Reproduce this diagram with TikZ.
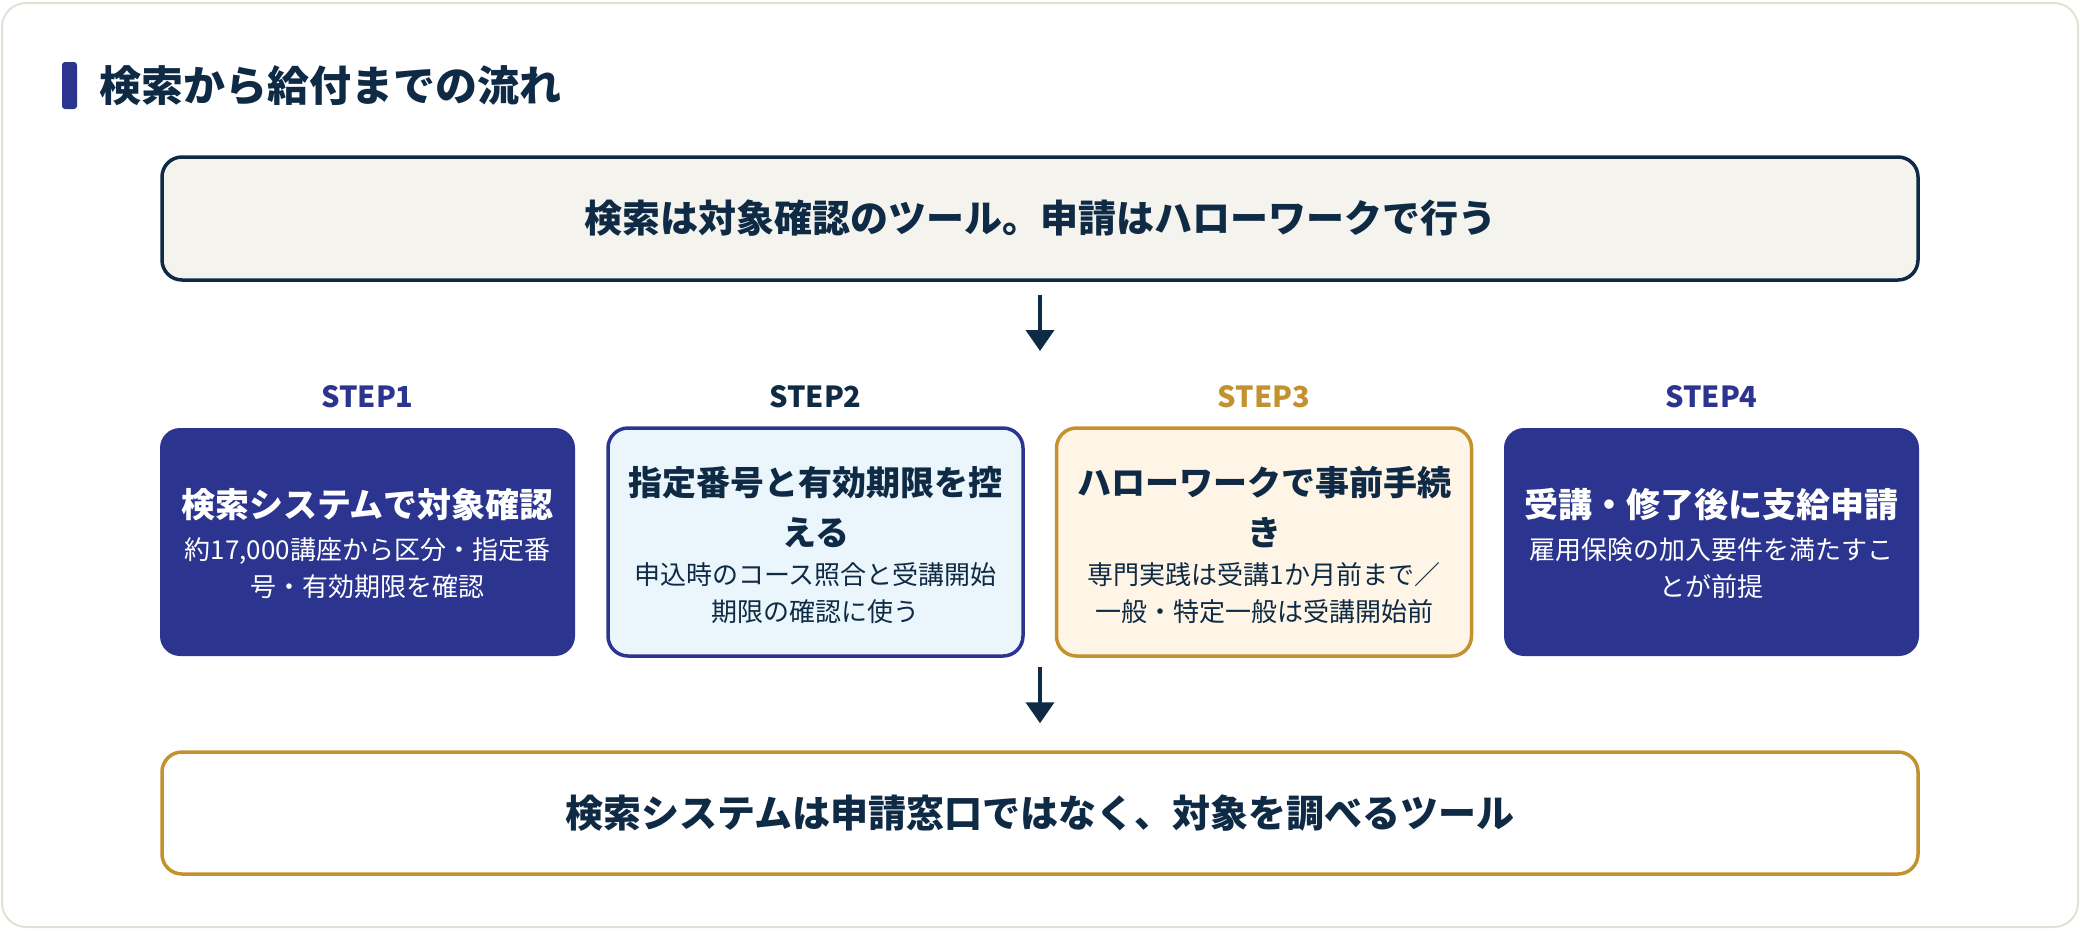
\documentclass[tikz,border=0pt]{standalone}
\usepackage{fontspec}
\setmainfont{Noto Sans CJK JP}
\usetikzlibrary{arrows.meta}
\definecolor{indigo}{HTML}{2B3590}
\definecolor{navy}{HTML}{0F2A44}
\definecolor{gold}{HTML}{C4912F}
\definecolor{topfill}{HTML}{F4F3EE}
\definecolor{bluefill}{HTML}{EAF6FC}
\definecolor{creamfill}{HTML}{FEF5E6}
\definecolor{cardline}{HTML}{E3E1D5}
\begin{document}
\begin{tikzpicture}[x=1pt,y=-1pt,
  bigbox/.style={draw=navy, line width=3.5pt, rounded corners=20pt, minimum width=1756pt, minimum height=123pt, inner sep=0pt, text=navy, font=\fontsize{38}{46}\selectfont\bfseries},
  stepbox/.style={rounded corners=20pt, minimum width=415pt, minimum height=228pt, inner sep=0pt, line width=3.5pt},
  steplabel/.style={inner sep=0pt, font=\fontsize{29}{34}\selectfont\bfseries},
  ttl/.style={inner sep=0pt, align=center, font=\fontsize{34}{50}\selectfont\bfseries},
  sub/.style={inner sep=0pt, align=center, font=\fontsize{26}{37}\selectfont},
  flow/.style={draw=navy, line width=4pt, -{Triangle[width=28pt,length=21pt]}}
]
\useasboundingbox (0,0) rectangle (2080,930);
% outer card
\draw[cardline, line width=2pt, fill=white, rounded corners=24pt] (2,3) rectangle (2078,927);
% heading
\fill[indigo, rounded corners=3pt] (62,62) rectangle (77,109);
\node[anchor=west, inner sep=0pt, text=navy, font=\fontsize{42}{50}\selectfont\bfseries] (head) at (99,86) {検索から給付までの流れ};
% top box
\node[bigbox, fill=topfill] (top) at (1040,218.5) {検索は対象確認のツール。申請はハローワークで行う};
\coordinate (a1e) at (1040,351);
\draw[flow] ([yshift=-13pt]top.south) -- (a1e);
% step labels
\node[steplabel, text=indigo] (l1) at (367.5,397) {STEP1};
\node[steplabel, text=navy] (l2) at (815.5,397) {STEP2};
\node[steplabel, text=gold] (l3) at (1264,397) {STEP3};
\node[steplabel, text=indigo] (l4) at (1711.5,397) {STEP4};
% step boxes
\node[stepbox, fill=indigo] (s1) at (367.5,542) {};
\node[stepbox, draw=indigo, fill=bluefill] (s2) at (815.5,542) {};
\node[stepbox, draw=gold, fill=creamfill] (s3) at (1264,542) {};
\node[stepbox, fill=indigo] (s4) at (1711.5,542) {};
% step texts
\node[ttl, text=white] (s1t) at (367.5,505) {検索システムで対象確認};
\node[sub, text=white] (s1s) at (367.5,568.5) {約17,000講座から区分・指定番\\号・有効期限を確認};
\node[ttl, text=navy] (s2t) at (815.5,507) {指定番号と有効期限を控\\える};
\node[sub, text=navy] (s2s) at (815.5,593.5) {申込時のコース照合と受講開始\\期限の確認に使う};
\node[ttl, text=navy] (s3t) at (1264,507) {ハローワークで事前手続\\き};
\node[sub, text=navy] (s3s) at (1264,593.5) {専門実践は受講1か月前まで／\\一般・特定一般は受講開始前};
\node[ttl, text=white] (s4t) at (1711.5,505) {受講・修了後に支給申請};
\node[sub, text=white] (s4s) at (1711.5,568.5) {雇用保険の加入要件を満たすこ\\とが前提};
% bottom box
\node[bigbox, draw=gold, fill=white, minimum height=122pt] (bot) at (1040,813) {検索システムは申請窓口ではなく、対象を調べるツール};
\coordinate (a2s) at (1040,667);
\draw[flow] (a2s) -- ([yshift=27pt]bot.north);
\end{tikzpicture}
\end{document}
